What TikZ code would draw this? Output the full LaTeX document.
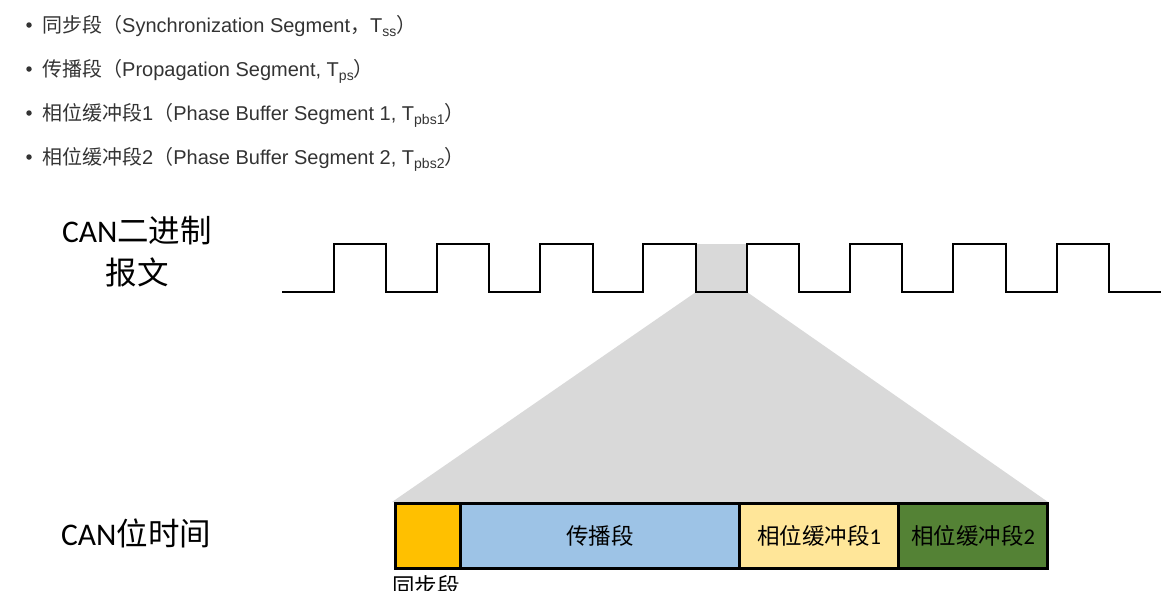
\documentclass[tikz,border=0pt]{standalone}
\usepackage{fontspec}
\setmainfont{Liberation Sans}
\newfontfamily\cjk{Noto Sans CJK SC}
\newfontfamily\calib{Carlito}
\definecolor{txtgray}{HTML}{333333}
\definecolor{fillgray}{HTML}{D9D9D9}
\definecolor{syncc}{HTML}{FFC000}
\definecolor{propc}{HTML}{9DC3E6}
\definecolor{pbsa}{HTML}{FFE699}
\definecolor{pbsb}{HTML}{548235}
\newcommand{\sbs}[1]{\raisebox{-4.5pt}{\fontsize{14}{14}\selectfont #1}}
\begin{document}
\begin{tikzpicture}[x=1pt,y=-1pt,
  bul/.style={anchor=base west,inner sep=0pt,text=txtgray,font=\fontsize{20}{22}\selectfont},
  dotb/.style={circle,fill=txtgray,inner sep=0pt,minimum size=5.5pt},
  lbl/.style={inner sep=0pt,font=\fontsize{31.5}{33}\selectfont},
  seg/.style={draw=black,line width=3pt,inner sep=0pt,minimum height=65pt,anchor=north west},
  segtxt/.style={inner sep=0pt,font=\cjk\fontsize{22.5}{24}\selectfont},
  wave/.style={line width=2.5pt,line join=miter}]
\useasboundingbox (0,0) rectangle (1169,590);
% bullets
\foreach \yy/\nm in {25/a,69/b,113/c,157/d}{\node[dotb] (dot\nm) at (29,\yy) {};}
\node[bul] (b1) at (42,32) {{\cjk 同步段（}Synchronization Segment{\cjk ，}T\sbs{ss}{\cjk ）}};
\node[bul] (b2) at (42,76) {{\cjk 传播段（}Propagation Segment, T\sbs{ps}{\cjk ）}};
\node[bul] (b3) at (42,120) {{\cjk 相位缓冲段}1{\cjk （}Phase Buffer Segment 1, T\sbs{pbs1}{\cjk ）}};
\node[bul] (b4) at (42,164) {{\cjk 相位缓冲段}2{\cjk （}Phase Buffer Segment 2, T\sbs{pbs2}{\cjk ）}};
% gray zoom region
\fill[fillgray] (696,244) -- (747,244) -- (747,292) -- (1048,502) -- (392,502) -- (696,292) -- cycle;
% waveform
\draw[wave] (282,292) -- (334,292) -- (334,244) -- (386,244) -- (386,292)
  -- (437,292) -- (437,244) -- (489,244) -- (489,292)
  -- (540,292) -- (540,244) -- (593,244) -- (593,292)
  -- (643,292) -- (643,244) -- (696,244) -- (696,292)
  -- (747,292) -- (747,244) -- (799,244) -- (799,292)
  -- (850,292) -- (850,244) -- (902,244) -- (902,292)
  -- (953,292) -- (953,244) -- (1006,244) -- (1006,292)
  -- (1057,292) -- (1057,244) -- (1109,244) -- (1109,292)
  -- (1161,292);
% labels
\node[lbl,anchor=base] (l1) at (137,242) {{\calib CAN}{\cjk 二进制}};
\node[lbl,anchor=base] (l2) at (137,284) {\cjk 报文};
\node[lbl,anchor=base west] (l3) at (61,545) {{\calib CAN}{\cjk 位时间}};
% segments
\node[seg,fill=syncc,minimum width=65pt] (ss) at (394,502) {};
\node[seg,fill=propc,minimum width=279pt] (ps) at (459,502) {};
\node[seg,fill=pbsa,minimum width=159pt] (p1) at (738,502) {};
\node[seg,fill=pbsb,minimum width=149pt] (p2) at (897,502) {};
\node[segtxt] at (ps.center) {传播段};
\node[segtxt] at (p1.center) {相位缓冲段{\calib 1}};
\node[segtxt] at (p2.center) {相位缓冲段{\calib 2}};
\node[segtxt,anchor=base west] (sslbl) at (392,594) {同步段};
\end{tikzpicture}
\end{document}
